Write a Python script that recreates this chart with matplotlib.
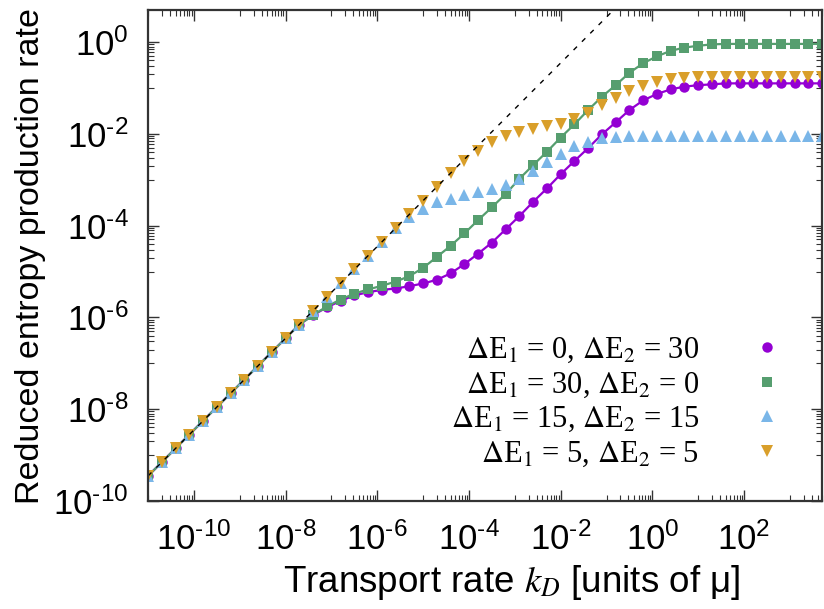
import matplotlib
matplotlib.use("Agg")
import matplotlib.pyplot as plt
import matplotlib.ticker as mticker
from matplotlib.lines import Line2D
import numpy as np

plt.rcParams['font.family'] = ['Liberation Sans', 'DejaVu Sans']
plt.rcParams['mathtext.fontset'] = 'stix'

# transport rate k_D (50 log-spaced values from 1e-11 to 5e3)
k_D = [1.0e-11, 2.0e-11, 3.98e-11, 7.94e-11, 1.58e-10, 3.16e-10, 6.31e-10,
       1.26e-9, 2.51e-9, 5.01e-9, 1.0e-8, 2.0e-8, 3.98e-8, 7.94e-8,
       1.58e-7, 3.16e-7, 6.31e-7, 1.26e-6, 2.51e-6, 5.01e-6, 1.0e-5,
       2.0e-5, 3.98e-5, 7.94e-5, 1.58e-4, 3.16e-4, 6.31e-4, 1.26e-3,
       2.51e-3, 5.01e-3, 1.0e-2, 2.0e-2, 3.98e-2, 7.94e-2, 0.158, 0.316,
       0.631, 1.26, 2.51, 5.01, 10.0, 20.0, 39.8, 79.4, 158.0, 316.0,
       631.0, 1260.0, 2510.0, 5010.0]

# shared low-k_D part (k=0..11)
common = [3.51e-10, 7.0e-10, 1.40e-9, 2.79e-9, 5.56e-9, 1.11e-8, 2.21e-8,
          4.42e-8, 8.81e-8, 1.76e-7, 3.51e-7, 7.0e-7]

sigma_0_30 = common + [
    1.12e-6, 1.66e-6, 2.29e-6, 3.02e-6, 3.55e-6, 3.98e-6, 4.27e-6, 4.79e-6,
    5.50e-6, 6.61e-6, 9.12e-6, 1.45e-5, 2.45e-5, 4.27e-5, 8.32e-5, 1.62e-4,
    3.31e-4, 6.46e-4, 1.32e-3, 2.57e-3, 4.90e-3, 9.77e-3, 1.78e-2, 3.31e-2,
    5.37e-2, 7.41e-2, 9.33e-2, 0.107, 0.115, 0.120, 0.126, 0.126, 0.126,
    0.126, 0.126, 0.126, 0.126, 0.126]

sigma_30_0 = common + [
    1.12e-6, 1.74e-6, 2.45e-6, 3.31e-6, 4.07e-6, 4.90e-6, 6.03e-6, 7.94e-6,
    1.20e-5, 2.09e-5, 3.63e-5, 6.76e-5, 1.32e-4, 2.51e-4, 4.90e-4, 1.05e-3,
    2.09e-3, 4.07e-3, 8.32e-3, 1.62e-2, 3.31e-2, 6.46e-2, 0.115, 0.214,
    0.347, 0.490, 0.646, 0.759, 0.832, 0.891, 0.912, 0.912, 0.912, 0.912,
    0.912, 0.912, 0.912, 0.912]

sigma_15_15 = common + [
    1.40e-6, 2.79e-6, 5.56e-6, 1.11e-5, 2.21e-5, 4.42e-5, 8.7e-5, 1.51e-4,
    2.26e-4, 3.24e-4, 3.89e-4, 4.68e-4, 5.37e-4, 6.31e-4, 7.59e-4, 1.05e-3,
    1.58e-3, 2.40e-3, 3.72e-3, 5.37e-3, 6.76e-3, 7.94e-3, 8.51e-3, 8.91e-3,
    8.91e-3, 8.91e-3, 8.91e-3, 8.91e-3, 8.91e-3, 8.91e-3, 8.91e-3, 8.91e-3,
    8.91e-3, 8.91e-3, 8.91e-3, 8.91e-3, 8.91e-3, 8.91e-3]

sigma_5_5 = common + [
    1.40e-6, 2.79e-6, 5.56e-6, 1.11e-5, 2.21e-5, 4.42e-5, 8.81e-5, 1.76e-4,
    3.51e-4, 7.0e-4, 1.40e-3, 2.57e-3, 4.27e-3, 6.61e-3, 8.91e-3, 1.10e-2,
    1.26e-2, 1.45e-2, 1.66e-2, 2.09e-2, 2.88e-2, 4.17e-2, 6.17e-2, 8.71e-2,
    0.110, 0.135, 0.155, 0.162, 0.170, 0.170, 0.170, 0.170, 0.170, 0.170,
    0.170, 0.170, 0.170, 0.170]

# asymptote: sigma = slope * k_D
asym_slope = 35.1
asym_x = [1e-11, 1e4]

labels = [r'$\Delta$E$_1$ = 0, $\Delta$E$_2$ = 30',
          r'$\Delta$E$_1$ = 30, $\Delta$E$_2$ = 0',
          r'$\Delta$E$_1$ = 15, $\Delta$E$_2$ = 15',
          r'$\Delta$E$_1$ = 5, $\Delta$E$_2$ = 5']
colors = ['#9400d3', '#569e6f', '#7ab6e8', '#d99f2a']
markers = ['o', 's', '^', 'v']
sizes = [7.5, 6.8, 8.5, 8.5]

fig = plt.figure(figsize=(8.24, 6.09), dpi=100)
ax = fig.add_axes([148/824, 108/609, 674/824, 491/609])

ax.plot(k_D, sigma_0_30, color=colors[0], lw=1.6, marker=markers[0],
        ms=sizes[0], mew=0)
ax.plot(k_D, sigma_30_0, color=colors[1], lw=1.6, marker=markers[1],
        ms=sizes[1], mew=0)
ax.plot(k_D, sigma_15_15, color=colors[2], lw=0, marker=markers[2],
        ms=sizes[2], mew=0)
ax.plot(k_D, sigma_5_5, color=colors[3], lw=0, marker=markers[3],
        ms=sizes[3], mew=0)
ax.plot(asym_x, [asym_slope * v for v in asym_x], color='black', lw=1.0,
        dashes=(3.5, 5))

ax.set_xscale('log')
ax.set_yscale('log')
ax.set_xlim(1e-11, 5e3)
ax.set_ylim(1e-10, 5)

maj_x = [10.0**e for e in range(-10, 4, 2)]
maj_y = [10.0**e for e in range(-10, 2, 2)]
min_x = [m * 10.0**e for e in range(-11, 4, 2) for m in range(1, 10)]
min_y = [m * 10.0**e for e in range(-11, 1, 2) for m in range(1, 10)]
ax.xaxis.set_major_locator(mticker.FixedLocator(maj_x))
ax.yaxis.set_major_locator(mticker.FixedLocator(maj_y))
ax.xaxis.set_minor_locator(mticker.FixedLocator(min_x))
ax.yaxis.set_minor_locator(mticker.FixedLocator(min_y))

def fmt(v, pos):
    e = int(round(np.log10(v)))
    s = str(e).replace('-', '\u2010')
    return r'$\mathregular{10^{%s}}$' % s

ax.xaxis.set_major_formatter(mticker.FuncFormatter(fmt))
ax.yaxis.set_major_formatter(mticker.FuncFormatter(fmt))
ax.xaxis.set_minor_formatter(mticker.NullFormatter())
ax.yaxis.set_minor_formatter(mticker.NullFormatter())

ax.tick_params(which='both', direction='in', top=True, right=True,
               color='#333333', labelsize=25)
ax.tick_params(which='major', length=8, width=1.0)
ax.tick_params(which='minor', length=4, width=0.8)
ax.tick_params(axis='x', which='major', pad=15)
ax.tick_params(axis='y', which='major', pad=14)
for s in ax.spines.values():
    s.set_linewidth(1.6)
    s.set_color('#333333')

ax.set_xlabel(r'Transport rate $k_D$ [units of μ]', fontsize=26.5,
              labelpad=5)
ax.xaxis.label.set_x(0.54)
ax.set_ylabel('Reduced entropy production rate', fontsize=24.5,
              labelpad=5)

handles = [Line2D([], [], ls='none', marker=m, color=c, ms=s, mew=0)
           for m, c, s in zip(markers, colors, sizes)]
leg = ax.legend(handles, labels, loc='lower right',
                bbox_to_anchor=(0.963, 0.066),
                frameon=False, markerfirst=False,
                prop={'family': ['Liberation Serif'], 'size': 22},
                handlelength=2.0, handletextpad=1.2, labelspacing=0.17,
                borderpad=0, borderaxespad=0)

fig.savefig('out.png', dpi=100)
